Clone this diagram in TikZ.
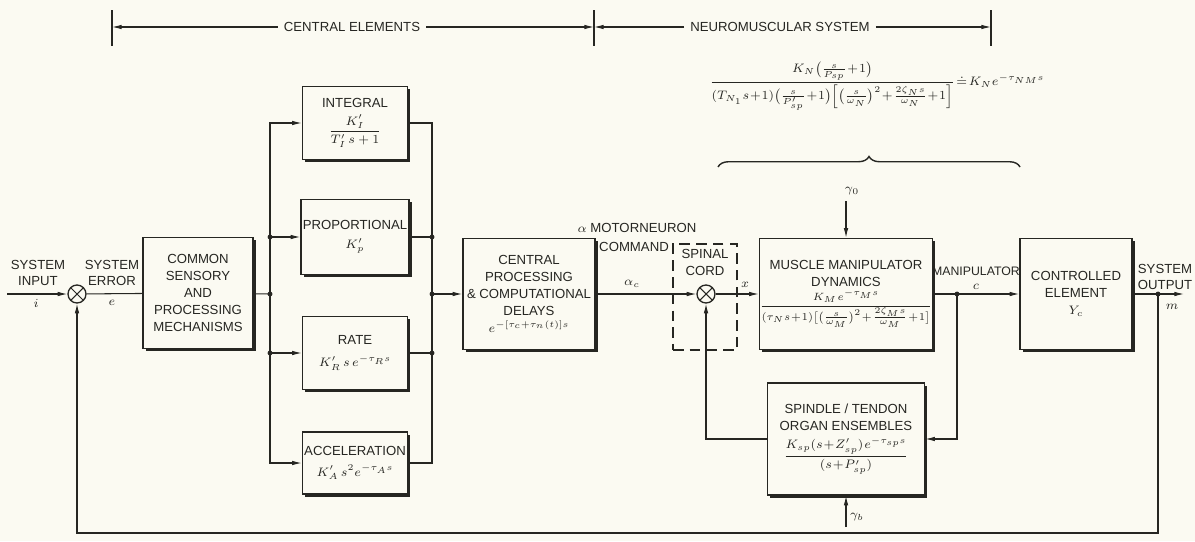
\documentclass[tikz,border=0pt]{standalone}
\usepackage{amsmath,amssymb}
\usepackage{fontspec}
\setmainfont{Liberation Sans}
\usepackage{tikz}
\usetikzlibrary{arrows.meta,positioning,calc,shadows,decorations.pathreplacing}
\definecolor{ink}{RGB}{38,38,34}
\definecolor{paper}{RGB}{251,250,242}
\newcommand{\tightmath}{\medmuskip=1mu\thickmuskip=2mu\thinmuskip=1mu}

\begin{document}
\begin{tikzpicture}[x=0.02cm,y=-0.02cm,
  every node/.style={font=\fontsize{7.5}{9.6}\selectfont,align=center,text=ink},
  blk/.style={draw=ink,line width=0.85pt,fill=paper,inner sep=1pt,
    drop shadow={shadow xshift=1.5pt,shadow yshift=-1.5pt,fill=ink,opacity=1}},
  sig/.style={draw=ink,line width=0.6pt},
  arr/.style={sig,-{Latex[length=5.5pt,width=2.6pt]}},
  sumj/.style={circle,draw=ink,line width=0.75pt,fill=paper,minimum size=0.36cm,inner sep=0pt,
    path picture={\draw[ink,line width=0.6pt]
      (path picture bounding box.north west) -- (path picture bounding box.south east)
      (path picture bounding box.south west) -- (path picture bounding box.north east);}},
  dot/.style={fill=ink}]
  \fill[paper] (0,0) rectangle (1195,541);
  \useasboundingbox (0,0) rectangle (1195,541);

  \coordinate (t1) at (112,27);
  \coordinate (t2) at (594,27);
  \coordinate (t3) at (991,27);
  \foreach \t in {t1,t2,t3}{
    \draw[sig,line width=0.8pt] ($(\t)+(0,-17)$) -- ($(\t)+(0,19)$);
  }
  \node (centr) at (352,27) {CENTRAL ELEMENTS};
  \node (neuro) at (780,27) {NEUROMUSCULAR SYSTEM};
  \draw[arr] (centr) -- (t1);
  \draw[arr] (centr) -- (t2);
  \draw[arr] (neuro) -- (t2);
  \draw[arr] (neuro) -- (t3);

  \node[font=\fontsize{7.5}{9.6}\selectfont\tightmath] (nmtf) at (877,86)
    {$\dfrac{K_N\bigl(\tfrac{s}{P_{sp}}+1\bigr)}{(T_{N_1}s+1)\bigl(\tfrac{s}{P'_{sp}}+1\bigr)\Bigl[\bigl(\tfrac{s}{\omega_N}\bigr)^{2}+\tfrac{2\zeta_N s}{\omega_N}+1\Bigr]}\doteq K_N e^{-\tau_{NM}s}$};
  \draw[sig,line width=0.8pt,decorate,decoration={brace,amplitude=6pt}] (718,167) -- (1020,167);

  \node[sumj] (sj1) at (77,294) {};
  \node[blk,minimum width=2.2cm,minimum height=2.22cm] (common) at (198,293)
    {COMMON\\SENSORY\\AND\\PROCESSING\\MECHANISMS};

  \node[blk,minimum width=2.1cm,minimum height=1.46cm] (integ) at (355,123)
    {INTEGRAL\\[3pt]$\dfrac{K'_{I}}{T'_{I}\,s+1}$};
  \node[blk,minimum width=2.1cm,minimum height=1.5cm] (prop) at (355,237)
    {PROPORTIONAL\\[1pt]$K'_{p}$};
  \node[blk,minimum width=2.1cm,minimum height=1.46cm] (rate) at (355,353)
    {RATE\\[3pt]$K'_{R}\,s\,e^{-\tau_R s}$};
  \node[blk,minimum width=2.1cm,minimum height=1.24cm] (accel) at (355,463)
    {ACCELERATION\\[2pt]$K'_{A}\,s^{2}e^{-\tau_A s}$};

  \node[blk,minimum width=2.64cm,minimum height=2.22cm] (central) at (529,294)
    {CENTRAL\\PROCESSING\\\& COMPUTATIONAL\\DELAYS\\$e^{-[\tau_c+\tau_n(t)]s}$};

  \node[draw=ink,line width=0.8pt,dash pattern=on 6pt off 3.5pt,minimum width=1.28cm,minimum height=2.12cm] (spinal) at (705,297) {};
  \node[anchor=north] (spinaltxt) at (spinal.north) {SPINAL\\CORD};
  \node[sumj] (sj2) at (706,294) {};

  \node[blk,minimum width=3.14cm,minimum height=2.22cm,inner sep=0pt] (muscle) at (846,294)
    {MUSCLE MANIPULATOR\\DYNAMICS\\[1pt]{\fontsize{5.8}{7.5}\selectfont\tightmath$\dfrac{K_M\,e^{-\tau_M s}}{(\tau_N s+1)\bigl[\bigl(\tfrac{s}{\omega_M}\bigr)^{2}+\tfrac{2\zeta_M s}{\omega_M}+1\bigr]}$}};
  \node[blk,minimum width=3.14cm,minimum height=2.24cm] (spindle) at (846,439)
    {SPINDLE / TENDON\\ORGAN ENSEMBLES\\[3pt]{\tightmath$\dfrac{K_{sp}(s+Z'_{sp})\,e^{-\tau_{sp}s}}{(s+P'_{sp})}$}};
  \node[blk,minimum width=2.24cm,minimum height=2.22cm] (ctrl) at (1076,294)
    {CONTROLLED\\ELEMENT\\$Y_c$};

  \node (sysin) at (38,273) {SYSTEM\\INPUT};
  \node (isym) at (36,303) {$i$};
  \node (syserr) at (112,273) {SYSTEM\\ERROR};
  \node (esym) at (112,303) {$e$};
  \node (alpha) at (637,228) {$\alpha$ MOTORNEURON};
  \node (cmd) at (634,247) {COMMAND};
  \node (ac) at (632,284) {$\alpha_c$};
  \node (xsym) at (745,285) {$x$};
  \node[font=\fontsize{7}{9}\selectfont] (manip) at (976,271) {MANIPULATOR};
  \node (csym) at (976,287) {$c$};
  \node (sysout) at (1165,277) {SYSTEM\\OUTPUT};
  \node (msym) at (1172,307) {$m$};
  \node (g0) at (852,191) {$\gamma_0$};
  \node (gb) at (857,517) {$\gamma_b$};

  \coordinate (inp) at (7,294);
  \coordinate (bl) at (270,294);
  \coordinate (br) at (432,294);
  \coordinate (mj) at (957,294);
  \coordinate (oj) at (1158,294);
  \coordinate (outp) at (1184,294);
  \coordinate (fb) at (77,533);
  \coordinate (g0t) at (846,201);
  \coordinate (gbt) at (846,527);

  \draw[arr] (inp) -- (sj1);
  \draw[sig] (sj1) -- (common);
  \draw[sig] (common) -- (bl);
  \foreach \b in {integ,prop,rate,accel}{
    \draw[arr] (bl) |- (\b);
    \draw[sig] (\b) -| (br);
  }
  \foreach \b in {prop,rate}{
    \fill[dot] (bl |- \b) circle (1.4pt);
    \fill[dot] (br |- \b) circle (1.4pt);
  }
  \fill[dot] (bl) circle (1.4pt);
  \fill[dot] (br) circle (1.4pt);
  \draw[arr] (br) -- (central);
  \draw[arr] (central) -- (sj2);
  \draw[arr] (sj2) -- (muscle);
  \draw[arr] (g0t) -- (muscle.north);
  \draw[sig] (muscle) -- (mj);
  \draw[arr] (mj) -- (ctrl);
  \draw[arr] (mj) |- (spindle);
  \draw[arr] (spindle) -| (sj2);
  \draw[arr] (gbt) -- (spindle.south);
  \draw[arr] (ctrl) -- (outp);
  \draw[arr] (oj) |- (fb) -- (sj1);
  \fill[dot] (mj) circle (1.4pt);
  \fill[dot] (oj) circle (1.4pt);
\end{tikzpicture}
\end{document}
